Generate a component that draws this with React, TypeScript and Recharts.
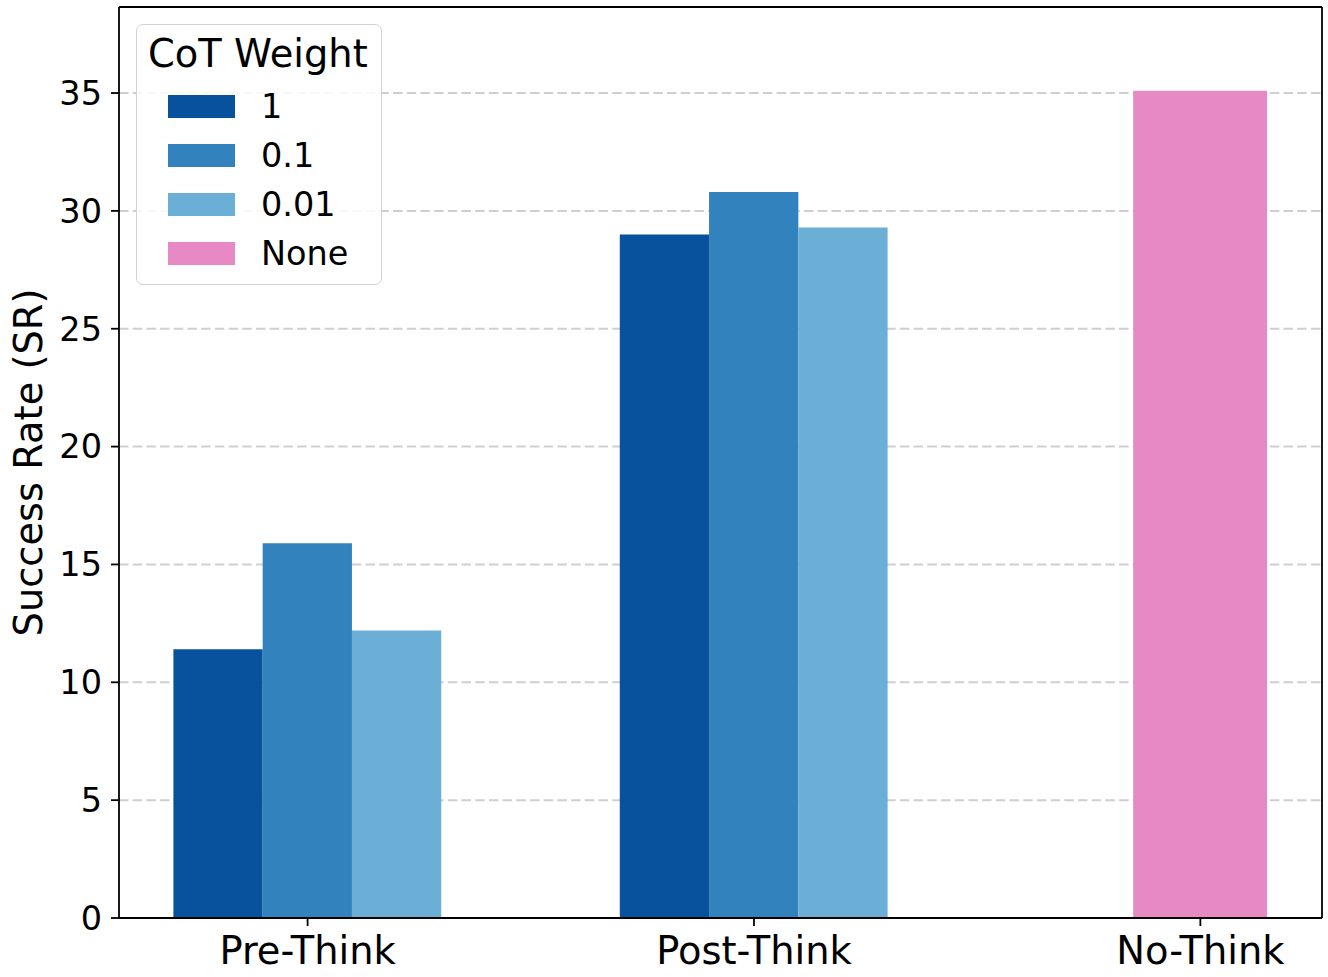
import { BarChart, Bar, XAxis, YAxis, CartesianGrid, Legend, Label } from "recharts"

// values
const groups = ["Pre-Think", "Post-Think", "No-Think"]
const weight1 = [11.4, 29.0, null]
const weight01 = [15.9, 30.8, null]
const weight001 = [12.2, 29.3, null]
const noneValues = [null, null, 35.1]
const seriesNames = ["1", "0.1", "0.01", "None"]
const seriesColors = ["#08519c", "#3182bd", "#6baed6", "#e78ac3"]
const yTicks = [0, 5, 10, 15, 20, 25, 30, 35]
const xTicks = [0, 1, 2]

const data = groups.map((g, i) => ({
    x: i,
    group: g,
    w1: weight1[i],
    w01: weight01[i],
    w001: weight001[i],
    none: noneValues[i],
}))

// layout
const W = 1328
const H = 977
const margin = { top: 6, right: 5, bottom: 0, left: 0 }
const yAxisWidth = 119
const xAxisHeight = 59
const xDomain: [number, number] = [-0.4225, 2.2725]
const yDomain: [number, number] = [0, 38.65]
const plotWidth = W - margin.left - margin.right - yAxisWidth - 1
const pxPerUnit = plotWidth / (xDomain[1] - xDomain[0])
const cotBarWidth = 0.2 * pxPerUnit
const noneBarWidth = 0.3 * pxPerUnit
const font = "'DejaVu Sans', sans-serif"
const bigFont = 38.4
const smallFont = 33.5

const renderLegend = (props: any) => {
    const payload = [...(props.payload || [])].sort(
        (a: any, b: any) => seriesNames.indexOf(a.value) - seriesNames.indexOf(b.value)
    )
    return (
        <div
            style={{
                position: "relative",
                width: 246,
                height: 261,
                boxSizing: "border-box",
                border: "1.8px solid #d2d2d2",
                borderRadius: 7,
                background: "rgba(255,255,255,0.85)",
                fontFamily: font,
            }}
        >
            <div style={{ position: "absolute", left: 11, top: 9.5, fontSize: bigFont, lineHeight: 1, whiteSpace: "nowrap" }}>
                CoT Weight
            </div>
            {payload.map((entry: any, i: number) => (
                <div
                    key={i}
                    style={{
                        position: "absolute",
                        left: 31,
                        top: 64.5 + i * 49,
                        height: 34,
                        display: "flex",
                        alignItems: "center",
                        whiteSpace: "nowrap",
                    }}
                >
                    <div style={{ width: 67, height: 22.5, background: entry.color }} />
                    <span style={{ marginLeft: 26, fontSize: smallFont, lineHeight: 1 }}>{entry.value}</span>
                </div>
            ))}
        </div>
    )
}

export default function App() {
    return (
        <div style={{ position: "absolute", left: 0, top: 0, width: W, height: H, background: "#fff" }}>
            <BarChart width={W} height={H} data={data} margin={margin} barGap={0} style={{ fontFamily: font }}>
                <CartesianGrid
                    xAxisId="bottom"
                    yAxisId="left"
                    vertical={false}
                    horizontalValues={yTicks}
                    stroke="#cfcfcf"
                    strokeWidth={2}
                    strokeDasharray="9.5 4.2"
                />
                <XAxis
                    xAxisId="bottom"
                    dataKey="x"
                    type="number"
                    domain={xDomain}
                    allowDataOverflow
                    ticks={xTicks}
                    interval={0}
                    height={xAxisHeight}
                    tickFormatter={(v: number) => groups[v] ?? ""}
                    tick={{ fontSize: bigFont, fill: "#000", fontFamily: font }}
                    tickSize={8}
                    tickMargin={11}
                    axisLine={{ stroke: "#000", strokeWidth: 1.8 }}
                    tickLine={{ stroke: "#000", strokeWidth: 1.8 }}
                />
                <XAxis
                    xAxisId="top"
                    orientation="top"
                    dataKey="x"
                    type="number"
                    domain={xDomain}
                    allowDataOverflow
                    ticks={xTicks}
                    height={1}
                    tick={false}
                    tickLine={false}
                    axisLine={{ stroke: "#000", strokeWidth: 1.8 }}
                />
                <YAxis
                    yAxisId="left"
                    type="number"
                    domain={yDomain}
                    allowDataOverflow
                    ticks={yTicks}
                    interval={0}
                    width={yAxisWidth}
                    tick={{ fontSize: smallFont, fill: "#000", fontFamily: font }}
                    tickSize={8}
                    tickMargin={9}
                    axisLine={{ stroke: "#000", strokeWidth: 1.8 }}
                    tickLine={{ stroke: "#000", strokeWidth: 1.8 }}
                >
                    <Label
                        content={(p: any) => {
                            const vb = p.viewBox || { x: 0, y: 7, height: 911 }
                            const cx = vb.x + 28
                            const cy = vb.y + vb.height / 2
                            return (
                                <text
                                    x={cx}
                                    y={cy}
                                    transform={`rotate(-90 ${cx} ${cy})`}
                                    textAnchor="middle"
                                    dominantBaseline="central"
                                    fontSize={bigFont}
                                    fontFamily={font}
                                    fill="#000"
                                >
                                    Success Rate (SR)
                                </text>
                            )
                        }}
                    />
                </YAxis>
                <YAxis
                    yAxisId="right"
                    orientation="right"
                    type="number"
                    domain={yDomain}
                    allowDataOverflow
                    width={1}
                    tick={false}
                    tickLine={false}
                    axisLine={{ stroke: "#000", strokeWidth: 1.8 }}
                />
                <Legend
                    layout="horizontal"
                    verticalAlign="middle"
                    align="center"
                    content={renderLegend}
                    wrapperStyle={{ position: "absolute", left: 136, top: 24, width: 246, height: 261 }}
                />
                {["w1", "w01", "w001"].map((key, i) => (
                    <Bar
                        key={key}
                        xAxisId="bottom"
                        yAxisId="left"
                        dataKey={key}
                        name={seriesNames[i]}
                        fill={seriesColors[i]}
                        barSize={cotBarWidth}
                        isAnimationActive={false}
                    />
                ))}
                <Bar
                    xAxisId="top"
                    yAxisId="left"
                    dataKey="none"
                    name={seriesNames[3]}
                    fill={seriesColors[3]}
                    barSize={noneBarWidth}
                    isAnimationActive={false}
                />
            </BarChart>
        </div>
    )
}
